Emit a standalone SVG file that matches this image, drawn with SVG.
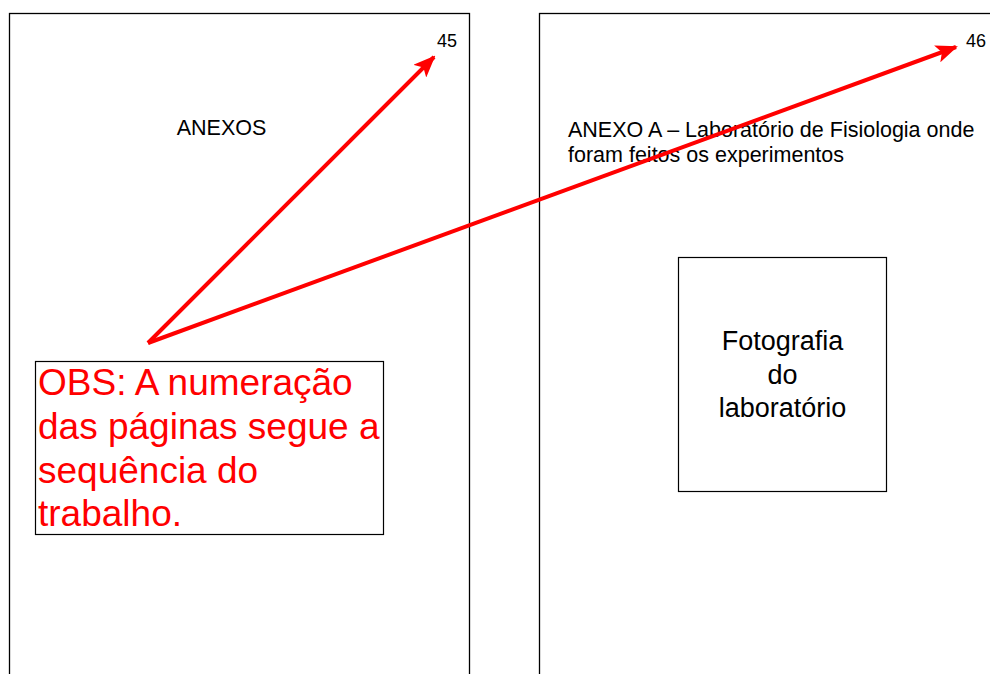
<svg xmlns="http://www.w3.org/2000/svg" width="990" height="674" viewBox="0 0 990 674">
<style>
.page{fill:#fff;stroke:#000;stroke-width:1.3}
.box{fill:#fff;stroke:#000;stroke-width:1.2}
.t{font-family:"Liberation Sans",Arial,sans-serif;fill:#000}
.obs{font-family:"Liberation Sans",Arial,sans-serif;fill:#ff0000;font-size:37px}
.arr{stroke:#ff0000;stroke-width:4;fill:none}
</style>
<defs>
<marker id="ah" markerUnits="userSpaceOnUse" markerWidth="22" markerHeight="18" refX="20" refY="9" orient="auto">
<path d="M0,0 L22,9 L0,18 L5,9 Z" fill="#ff0000"/>
</marker>
</defs>
<rect width="990" height="674" fill="#fff"/>
<g id="page45">
<rect class="page" x="9.5" y="13.5" width="460" height="680"/>
<text class="t" x="437" y="47" font-size="18">45</text>
<text class="t" x="221.5" y="135" font-size="21.5" text-anchor="middle">ANEXOS</text>
</g>
<g id="page46">
<rect class="page" x="539.5" y="13.5" width="480" height="680"/>
<text class="t" x="966" y="47" font-size="18">46</text>
<text class="t" x="568" y="137" font-size="21.5">ANEXO A – Laboratório de Fisiologia onde</text>
<text class="t" x="568" y="162" font-size="21.5">foram feitos os experimentos</text>
</g>
<g id="foto">
<rect class="box" x="678.5" y="257.5" width="208" height="234"/>
<text class="t" x="782.5" y="350" font-size="27" text-anchor="middle">Fotografia</text>
<text class="t" x="782.5" y="384" font-size="27" text-anchor="middle">do</text>
<text class="t" x="782.5" y="417" font-size="27" text-anchor="middle">laboratório</text>
</g>
<g id="obs">
<rect class="box" x="35.5" y="361.5" width="348" height="173"/>
<text class="obs" x="38" y="395">OBS: A numeração</text>
<text class="obs" x="38" y="439">das páginas segue a</text>
<text class="obs" x="38" y="483">sequência do</text>
<text class="obs" x="38" y="526">trabalho.</text>
</g>
<g id="connectors">
<line class="arr" x1="148" y1="343" x2="434" y2="57" marker-end="url(#ah)"/>
<line class="arr" x1="148" y1="343" x2="956" y2="47" marker-end="url(#ah)"/>
</g>
</svg>
